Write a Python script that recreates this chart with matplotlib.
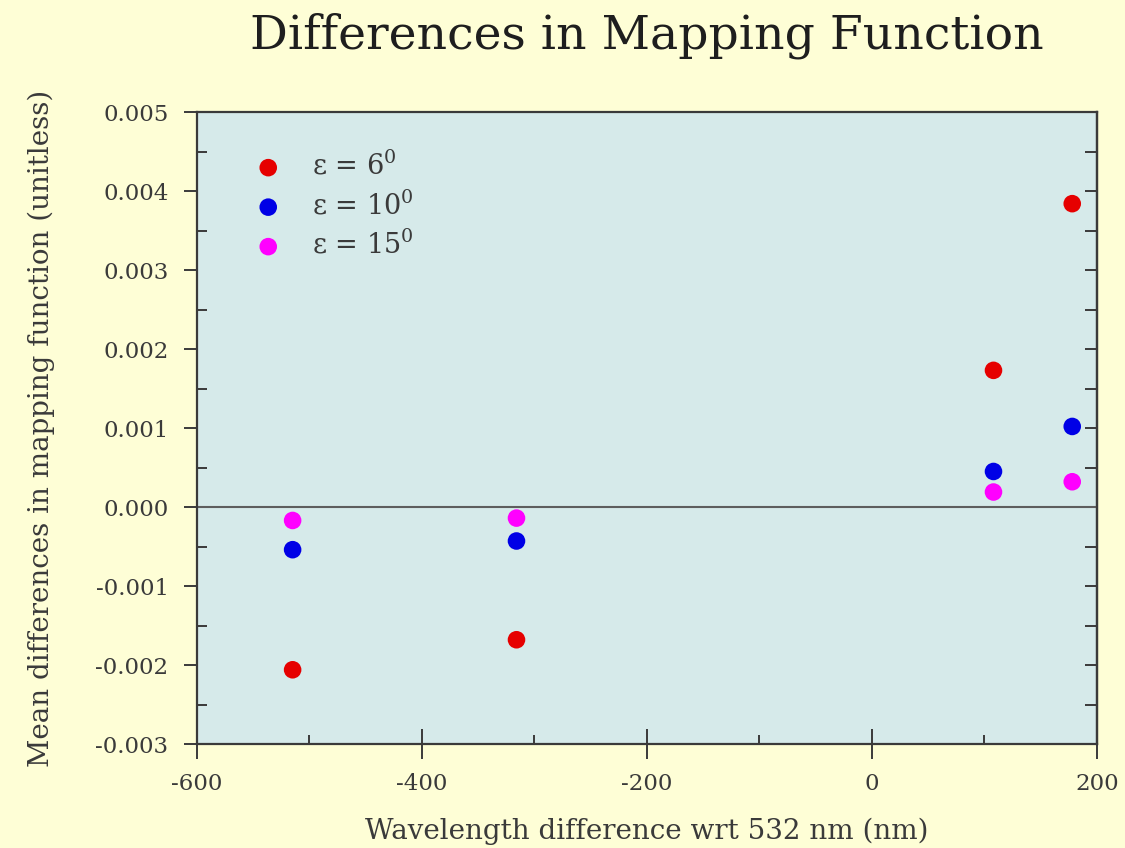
"""
scatter of mean mapping-function differences vs wavelength offset
one series per elevation angle, saved to out.png
"""

import matplotlib
matplotlib.use("Agg")
import matplotlib.pyplot as plt

# wavelength offsets wrt 532 nm (nm)
wavelength_diff = [-515, -316, 108, 178]

# mean differences in mapping function per elevation angle
diff_eps6 = [-0.00206, -0.00168, 0.00173, 0.00384]
diff_eps10 = [-0.00054, -0.00043, 0.00045, 0.00102]
diff_eps15 = [-0.00017, -0.00014, 0.00019, 0.00032]

series_labels = ["ε = 6$^0$", "ε = 10$^0$", "ε = 15$^0$"]
series_colors = ["#e60000", "#0000e6", "#ff00ff"]

x_ticks = [-600, -400, -200, 0, 200]
y_ticks = [-0.003, -0.002, -0.001, 0.000, 0.001, 0.002, 0.003, 0.004, 0.005]

FIG_BG = "#fefed6"
AX_BG = "#d6eaea"
INK = "#3a3a3a"


def main() -> None:
    plt.rcParams["font.family"] = ["DejaVu Serif"]
    plt.rcParams["mathtext.fontset"] = "dejavuserif"

    fig = plt.figure(figsize=(11.25, 8.48), dpi=100, facecolor=FIG_BG)
    ax = fig.add_axes([0.1751, 0.1226, 0.8, 0.7453], facecolor=AX_BG)

    # zero reference line
    ax.axhline(0, color="#5e5e5e", lw=1.5, zorder=1)

    for vals, lab, col in zip([diff_eps6, diff_eps10, diff_eps15],
                              series_labels, series_colors):
        ax.scatter(wavelength_diff, vals, s=160, color=col, label=lab,
                   edgecolors="none", zorder=3)

    ax.set_xlim(-600, 200)
    ax.set_ylim(-0.003, 0.005)
    ax.set_xticks(x_ticks)
    ax.set_xticks([-500, -300, -100, 100], minor=True)
    ax.set_yticks(y_ticks)
    ax.set_yticks([v + 0.0005 for v in y_ticks[:-1]], minor=True)
    ax.set_xticklabels([str(v) for v in x_ticks])
    ax.set_yticklabels([f"{v:.3f}" for v in y_ticks])

    for side in ["left", "bottom", "right", "top"]:
        ax.spines[side].set_color(INK)
        ax.spines[side].set_linewidth(1.6)

    ax.tick_params(axis="x", which="major", direction="inout", length=21,
                   width=1.4, color=INK, labelsize=16.5, labelcolor=INK,
                   pad=10)
    ax.tick_params(axis="x", which="minor", direction="in", length=6.5,
                   width=1.4, color=INK)
    ax.tick_params(axis="y", which="major", direction="out", length=9.5,
                   width=1.4, color=INK, labelsize=16.5, labelcolor=INK,
                   pad=11)
    ax.tick_params(axis="y", which="minor", direction="in", length=7,
                   width=1.4, color=INK)

    # inward ticks on the right edge, no labels
    sec = ax.secondary_yaxis("right")
    sec.set_yticks(y_ticks)
    sec.set_yticks([v + 0.0005 for v in y_ticks[:-1]], minor=True)
    sec.tick_params(which="both", direction="in", length=9, width=1.4,
                    color=INK, labelright=False)
    sec.spines["right"].set_color(INK)
    sec.spines["right"].set_linewidth(1.6)

    ax.set_xlabel("Wavelength difference wrt 532 nm (nm)", fontsize=20,
                  color=INK, labelpad=17)
    ax.set_ylabel("Mean differences in mapping function (unitless)",
                  fontsize=20, color=INK, labelpad=29)
    ax.set_title("Differences in Mapping Function", fontsize=34,
                 color="#1e1e1e", pad=46)

    ax.legend(loc="upper left", bbox_to_anchor=(0.022, 0.976), frameon=False,
              fontsize=19.5, labelcolor=INK, handletextpad=0.6,
              labelspacing=0.38, scatterpoints=1)

    fig.savefig("out.png", dpi=100, facecolor=FIG_BG)
    plt.close(fig)


if __name__ == "__main__":
    main()
